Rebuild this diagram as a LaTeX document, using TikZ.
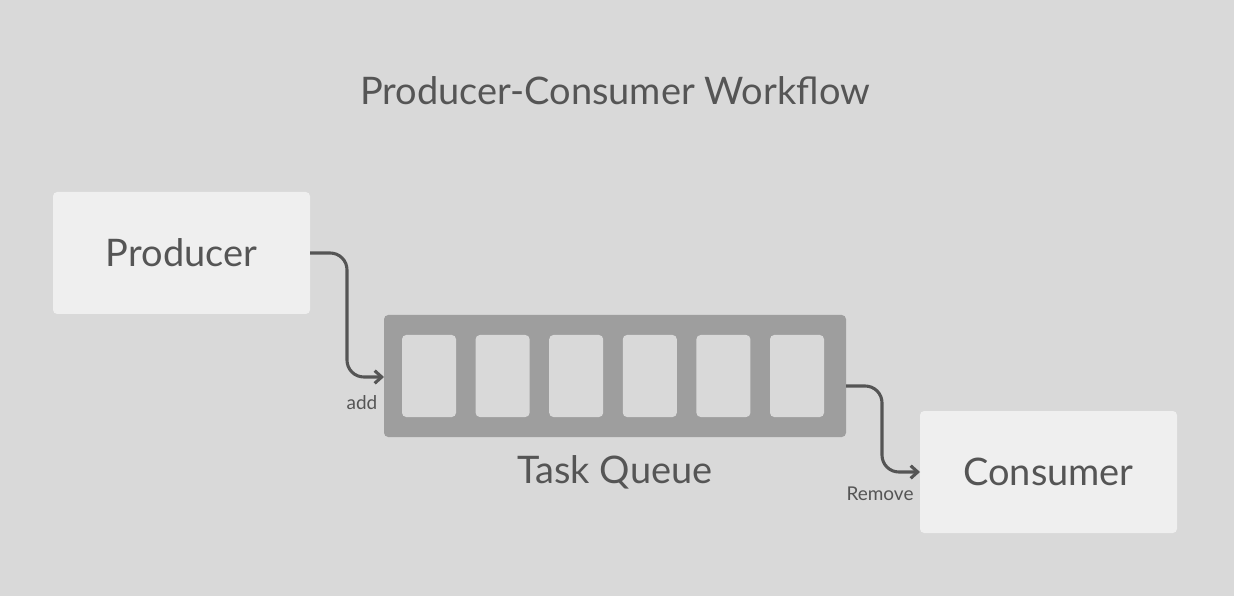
\documentclass[tikz,border=0pt]{standalone}
\usepackage{fontspec}
\setmainfont{Lato}
\definecolor{bg}{HTML}{D9D9D9}
\definecolor{card}{HTML}{EFEFEF}
\definecolor{rack}{HTML}{9E9E9E}
\definecolor{ink}{HTML}{555555}
\usetikzlibrary{arrows.meta}
\tikzstyle{base}=[x=0.025cm, y=-0.025cm, inner sep=0pt, outer sep=0pt]
\tikzstyle{box}=[fill=card, rounded corners=3pt, minimum width=257*0.025cm, minimum height=122*0.025cm, text=ink, font=\fontsize{27}{32}\selectfont]
\tikzstyle{link}=[ink, line width=2.2pt, rounded corners=12pt, -{Straight Barb[length=5pt,width=9pt,line width=2.2pt]}]
\tikzstyle{tag}=[text=ink, font=\fontsize{13.5}{16}\selectfont]

\begin{document}
\begin{tikzpicture}[base]
    % background
    \fill [bg] (0,0) rectangle (1234,596);
    \useasboundingbox (0,0) rectangle (1234,596);
    \node [text=ink, font=\fontsize{27}{32}\selectfont] (title) at (615,91) {Producer-Consumer Workflow};
    \node [box] (producer) at (181.5,253) {Producer};
    \node [box] (consumer) at (1048.5,472) {Consumer};
    % queue with its slots
    \node [fill=rack, rounded corners=3pt, minimum width=462*0.025cm, minimum height=122*0.025cm] (queue) at (615,376) {};
    \foreach \i in {0,...,5}
        \fill [bg, rounded corners=3pt] (402 + \i*73.6,335) rectangle (456 + \i*73.6,417);
    \node [text=ink, font=\fontsize{27}{32}\selectfont] (qname) at (615,472) {Task Queue};
    % connectors
    \coordinate (in) at (queue.west |- 0,377);
    \coordinate (out) at (queue.east |- 0,386);
    \draw [link] (producer.east) -| (347,330) |- (in);
    \draw [link] (out) -| (882,430) |- (consumer.west);
    \node [tag] (add) at (362,403) {add};
    \node [tag] (remove) at (880,494) {Remove};
\end{tikzpicture}
\end{document}
